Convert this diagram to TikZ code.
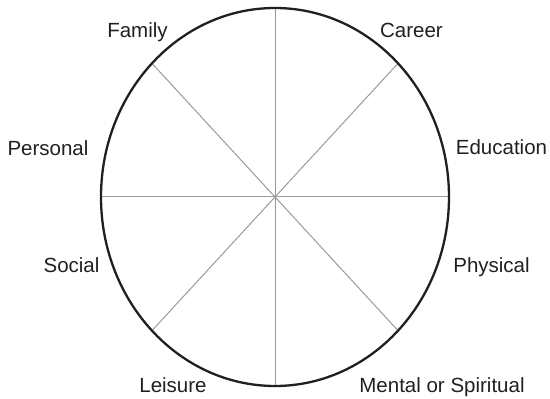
\documentclass[tikz,border=0pt]{standalone}
\usepackage{fontspec}
\setmainfont{Liberation Sans}
\usetikzlibrary{positioning}
\definecolor{rimblack}{HTML}{231F20}
\definecolor{spokegray}{HTML}{9A9A9A}
\begin{document}
\begin{tikzpicture}[x=1pt,y=1pt,font=\fontsize{20.5}{24}\selectfont,
 rim/.style={draw=rimblack,line width=2.3pt},
 spoke/.style={draw=spokegray,line width=1pt},
 lbl/.style={anchor=base,inner sep=0pt,text=rimblack}]
\useasboundingbox (0,0) rectangle (550,399);
\coordinate (c) at (275,202);
\foreach \a in {0,45,...,315}{
\draw[spoke] (c)--++(\a:174 and 189) coordinate (s\a);}
\draw[rim] (c) ellipse [x radius=174,y radius=189];
\foreach \x/\y/\id/\name in {137.5/361/family/Family,411.5/361/career/Career,48/243/personal/Personal,501.5/244/education/Education,71.5/126/social/Social,491.5/126/physical/Physical,173/6/leisure/Leisure,442/6/mental/Mental or Spiritual}{
\node[lbl] (\id) at (\x,\y) {\name};}
\end{tikzpicture}
\end{document}
